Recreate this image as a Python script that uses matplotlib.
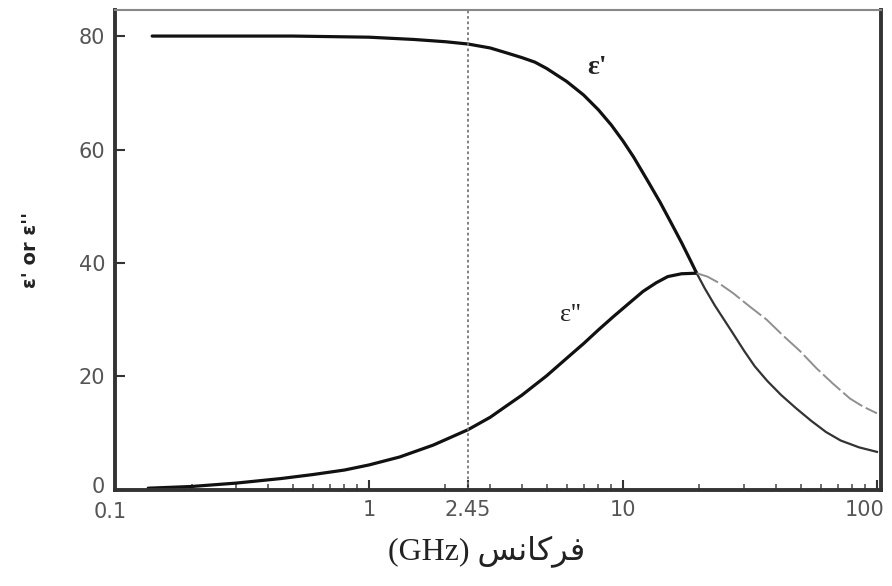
import numpy as np
import matplotlib
matplotlib.use("Agg")
import matplotlib.pyplot as plt
import matplotlib.transforms as mtransforms
from matplotlib.ticker import LogLocator, NullFormatter

# values (frequency in GHz)
freq_real = [0.14, 0.5, 1.0, 1.5, 2.0, 2.45, 3.0, 3.5, 4.0, 4.5, 5.0, 6.0, 7.0,
             8.0, 9.0, 10.0, 11.0, 12.5, 14.0, 15.5, 17.0, 18.5, 19.5, 21.0,
             23.0, 25.0, 27.0, 30.0, 33.0, 37.0, 42.0, 48.0, 55.0, 63.0, 72.0,
             85.0, 100]
eps_real = [80.0, 80.0, 79.8, 79.4, 79.0, 78.6, 77.9, 77.0, 76.2, 75.4, 74.3, 72.0, 69.6,
            67.0, 64.3, 61.5, 58.7, 54.5, 50.7, 47.0, 43.6, 40.3, 38.2, 35.5,
            32.5, 30.0, 27.7, 24.5, 21.8, 19.2, 16.7, 14.4, 12.2, 10.2, 8.7,
            7.5, 6.7]

freq_imag = [0.135, 0.2, 0.3, 0.45, 0.6, 0.8, 1.0, 1.32, 1.79, 2.45, 3.0, 3.5,
             4.0, 4.5, 5.0, 6.0, 7.0, 8.0, 9.14, 10.5, 12.0, 13.5, 15.0, 17.0,
             19.5, 21.5, 23.4, 27.1, 31.6, 36.8, 42.7, 49.7, 57.9, 67.2, 78.3,
             88.0, 100]
eps_imag = [0.3, 0.6, 1.2, 2.0, 2.7, 3.5, 4.4, 5.8, 7.9, 10.6, 12.8, 14.9,
            16.7, 18.5, 20.1, 23.2, 25.8, 28.2, 30.5, 32.8, 35.0, 36.5, 37.6, 38.1,
            38.2, 37.6, 36.7, 34.7, 32.3, 30.0, 27.2, 24.5, 21.4, 18.7, 16.1,
            14.7, 13.5]

x_ticks = [0.1, 1, 2.45, 10, 100]
x_tick_labels = ["0.1", "1", "2.45", "10", "100"]
y_ticks = [0, 20, 40, 60, 80]
crossing = 19.5

# Persian "فرکانس" written in visual (left-to-right) order with presentation forms
label_fa = "\uFEB2\uFEE7\uFE8E\uFB90\uFEAE\uFED3"

fig = plt.figure(figsize=(8.92, 5.86), dpi=100)
ax = fig.add_axes([0.129, 0.164, 0.859, 0.819])

fr = np.array(freq_real)
er = np.array(eps_real)
fi = np.array(freq_imag)
ei = np.array(eps_imag)

# before the crossing: thick black, after: thinner
m = fr <= crossing
ax.plot(fr[m], er[m], color="#111111", lw=2.3, solid_capstyle="round",
        solid_joinstyle="round")
m2 = fr >= crossing
ax.plot(fr[m2], er[m2], color="#333333", lw=1.6, solid_joinstyle="round")

m = fi <= crossing
ax.plot(fi[m], ei[m], color="#111111", lw=2.3, solid_capstyle="round",
        solid_joinstyle="round")
m2 = fi >= crossing
ax.plot(fi[m2], ei[m2], color="#8f8f8f", lw=1.4, dashes=(12, 2))

ax.axvline(2.45, color="#777777", lw=1.3, ls=(0, (1.5, 1.5)))

ax.set_xscale("log")
ax.set_xlim(0.1, 104)
ax.set_ylim(0, 84.6)

ax.set_xticks(x_ticks)
ax.set_xticklabels(x_tick_labels)
ax.xaxis.set_minor_locator(LogLocator(base=10, subs=np.arange(2, 10)))
ax.xaxis.set_minor_formatter(NullFormatter())
ax.set_yticks(y_ticks)

ax.tick_params(axis="both", which="major", direction="in", length=7, width=1.5,
               color="#333333", labelsize=15, labelcolor="#555555", pad=7)
ax.tick_params(axis="x", which="minor", direction="in", length=4, width=1.2,
               color="#555555")
ax.tick_params(top=False, right=False, which="both")

# nudge corner labels the way the original has them
px = fig.dpi_scale_trans
last = ax.get_xticklabels()[-1]
last.set_transform(last.get_transform() + mtransforms.ScaledTranslation(-12 / 100, 0, px))
first = ax.get_xticklabels()[0]
first.set_transform(first.get_transform() + mtransforms.ScaledTranslation(-5 / 100, -2 / 100, px))
zero = ax.get_yticklabels()[0]
zero.set_transform(zero.get_transform() + mtransforms.ScaledTranslation(0, 5 / 100, px))

for side in ["left", "bottom", "right"]:
    ax.spines[side].set_linewidth(2.8)
    ax.spines[side].set_color("#333333")
ax.spines["top"].set_linewidth(1.5)
ax.spines["top"].set_color("#888888")

ax.text(7.9, 74.5, "ε'", fontsize=20, fontweight="bold", color="#222222",
        family=["Liberation Serif", "DejaVu Serif"], ha="center", va="center")
ax.text(6.2, 30.8, "ε''", fontsize=19, color="#222222",
        family=["Liberation Serif", "DejaVu Serif"], ha="center", va="center")

ax.set_ylabel("ε' or ε''", fontsize=14, fontweight="bold", color="#222222")
ax.yaxis.set_label_coords(-0.098, 0.5)

ax.set_xlabel("(GHz) " + label_fa, fontsize=23, color="#222222",
              family=["Liberation Serif", "DejaVu Sans"])
ax.xaxis.set_label_coords(0.485, -0.095)

fig.savefig("out.png", dpi=100)
